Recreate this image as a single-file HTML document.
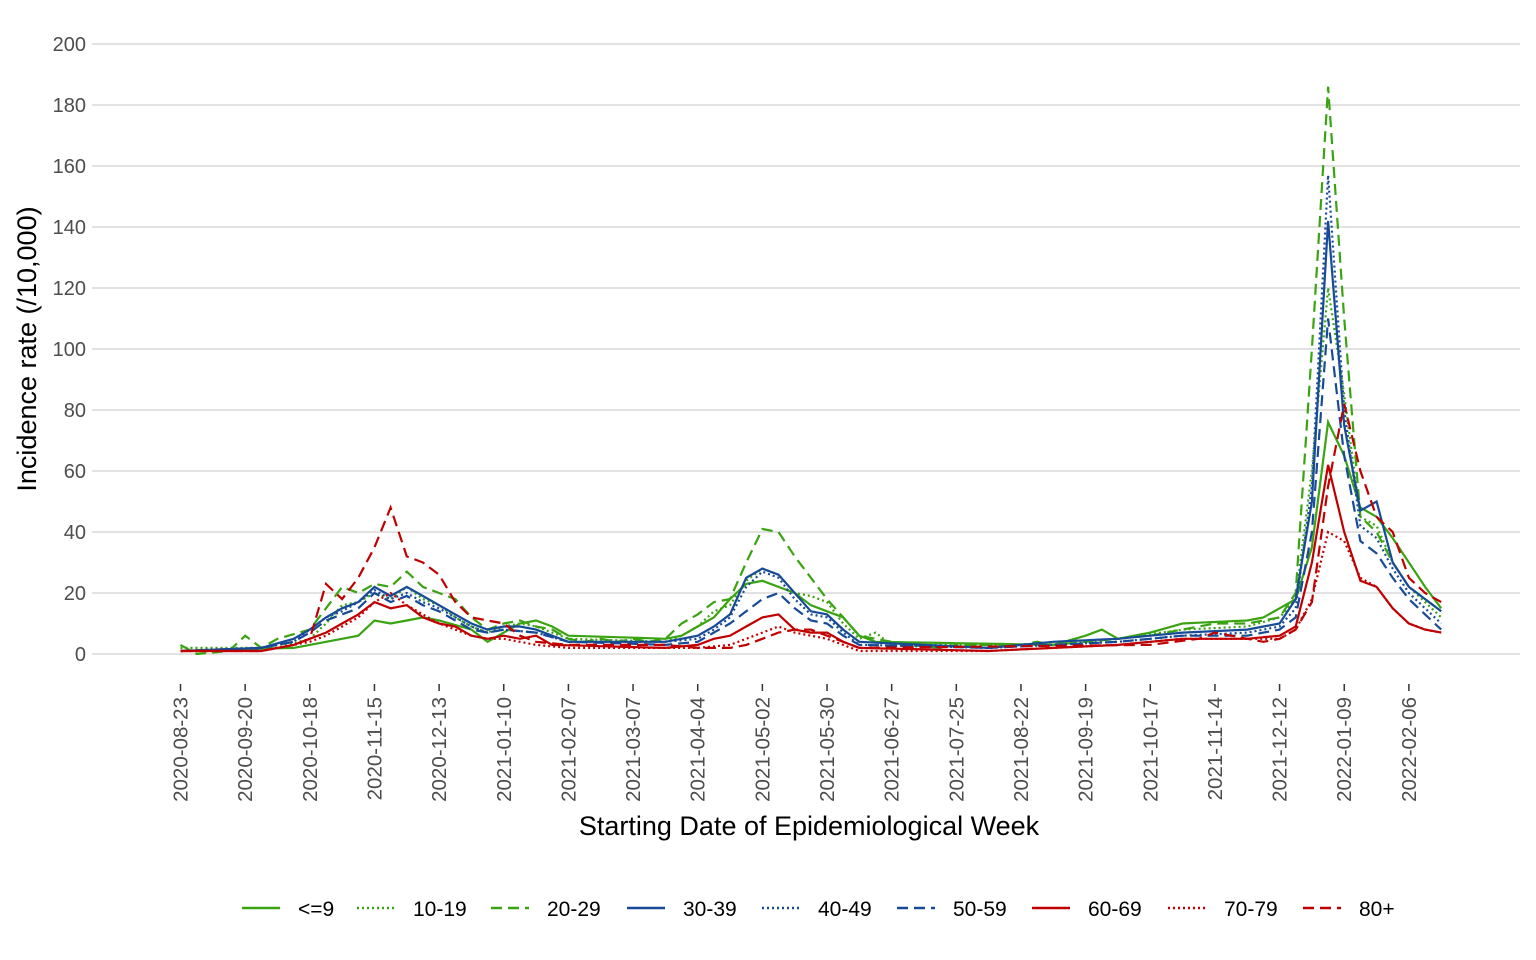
<!DOCTYPE html>
<html><head><meta charset="utf-8"><style>
body{margin:0;background:#fff;}
svg{display:block;font-family:"Liberation Sans",Arial,sans-serif;}
</style></head><body>
<svg id="s" width="1536" height="960" xmlns="http://www.w3.org/2000/svg">
<g id="grid" stroke="#d0d0d0" stroke-width="1.3"></g>
<g id="ylab" fill="#4d4d4d" font-size="20" text-anchor="end"></g>
<g id="xt"></g>
<g id="series" fill="none" stroke-width="2.2"></g>
<text x="809" y="835" font-size="27" text-anchor="middle" fill="#000">Starting Date of Epidemiological Week</text>
<text transform="translate(36,349) rotate(-90)" font-size="27" text-anchor="middle" fill="#000">Incidence rate (/10,000)</text>
<g id="leg" font-size="21" fill="#000"></g>
</svg>
<script>
var NS="http://www.w3.org/2000/svg";
function el(p,t,a,txt){var e=document.createElementNS(NS,t);for(var k in a)e.setAttribute(k,a[k]);if(txt!=null)e.textContent=txt;document.getElementById(p).appendChild(e);return e;}
function Y(v){return 654-v*3.05;}
function X(w){return 180.5+w*16.163;}
for(var v=0;v<=200;v+=20){el("grid","line",{x1:92,x2:1520,y1:Y(v),y2:Y(v)});el("ylab","text",{x:86,y:Y(v)+7},v);}
var labs=["2020-08-23","2020-09-20","2020-10-18","2020-11-15","2020-12-13","2021-01-10","2021-02-07","2021-03-07","2021-04-04","2021-05-02","2021-05-30","2021-06-27","2021-07-25","2021-08-22","2021-09-19","2021-10-17","2021-11-14","2021-12-12","2022-01-09","2022-02-06"];
labs.forEach(function(l,i){var x=X(i*4);el("xt","line",{x1:x,x2:x,y1:684,y2:691,stroke:"#333","stroke-width":1.5});el("xt","text",{transform:"translate("+(x+7)+",697) rotate(-90)","font-size":"20.5",fill:"#4d4d4d","text-anchor":"end"},l);});
function interp(k){var out=[];for(var w=0;w<=78;w++){var i=0;while(i<k.length-2&&k[i+1][0]<w)i++;var a=k[i],b=k[i+1];var t=(w-a[0])/(b[0]-a[0]);t=Math.max(0,Math.min(1,t));out.push(a[1]+(b[1]-a[1])*t);}return out;}
var G="#3aa312",B="#174a97",R="#c00000";
var S=[
{n:"<=9",c:G,d:"",k:[[0,1],[7,2],[8,3],[10,5],[11,6],[12,11],[13,10],[15,12],[16,11],[18,8],[19,4],[20,7],[21,10],[22,11],[23,9],[24,6],[30,5],[31,6],[32,9],[33,12],[34,18],[35,23],[36,24],[37,22],[38,20],[39,16],[40,14],[41,12],[42,6],[43,4],[54,3],[56,6],[57,8],[58,5],[60,7],[62,10],[66,11],[67,12],[68,15],[69,18],[70,35],[71,76],[72,65],[73,48],[74,45],[75,38],[76,30],[77,22],[78,15]]},
{n:"10-19",c:G,d:"2,3",k:[[0,2],[6,2],[8,5],[9,10],[10,16],[11,17],[12,20],[13,18],[14,22],[15,18],[16,16],[17,12],[18,9],[19,7],[20,9],[21,10],[22,9],[23,7],[24,5],[30,4],[31,6],[32,9],[33,14],[34,16],[35,24],[36,28],[37,26],[38,20],[39,19],[40,17],[41,10],[42,5],[43,7],[44,3],[54,3],[58,5],[62,8],[66,9],[68,12],[69,18],[70,60],[71,120],[72,85],[73,45],[74,42],[75,30],[76,22],[77,17],[78,12]]},
{n:"20-29",c:G,d:"11,6",k:[[0,3],[1,0],[3,1],[4,6],[5,2],[6,5],[8,8],[9,15],[10,22],[11,20],[12,23],[13,22],[14,27],[15,22],[16,20],[17,18],[18,12],[19,8],[20,10],[21,11],[22,9],[23,8],[24,5],[25,4],[26,5],[27,4],[28,5],[29,4],[30,5],[31,10],[32,13],[33,17],[34,18],[35,30],[36,41],[37,40],[38,32],[39,25],[40,18],[41,12],[42,6],[43,5],[44,4],[45,3],[47,2],[48,3],[52,3],[53,4],[54,3],[56,4],[58,5],[60,6],[62,8],[64,10],[66,10],[68,12],[69,20],[70,100],[71,186],[72,110],[73,45],[74,40],[75,30],[76,22],[77,18],[78,14]]},
{n:"30-39",c:B,d:"",k:[[0,1],[5,2],[7,5],[8,8],[9,12],[10,15],[11,17],[12,22],[13,19],[14,22],[15,19],[16,16],[17,13],[18,10],[19,8],[20,9],[21,9],[22,8],[23,6],[24,4],[30,4],[31,5],[32,6],[33,9],[34,13],[35,25],[36,28],[37,26],[38,20],[39,14],[40,13],[41,8],[42,4],[50,2],[54,4],[58,5],[62,7],[66,8],[68,10],[69,18],[70,50],[71,142],[72,75],[73,47],[74,50],[75,30],[76,22],[77,18],[78,14]]},
{n:"40-49",c:B,d:"2,3",k:[[0,1],[5,2],[7,4],[8,8],[9,12],[10,14],[11,17],[12,21],[13,18],[14,20],[15,17],[16,15],[17,12],[18,9],[19,7],[20,8],[22,7],[24,4],[30,4],[32,5],[33,8],[34,12],[35,22],[36,27],[37,25],[38,18],[39,13],[40,12],[41,7],[42,3],[50,2],[54,3],[58,4],[62,6],[66,7],[68,9],[69,15],[70,55],[71,157],[72,80],[73,42],[74,38],[75,28],[76,20],[77,15],[78,10]]},
{n:"50-59",c:B,d:"11,6",k:[[0,1],[5,2],[7,4],[8,7],[9,11],[10,13],[11,15],[12,20],[13,17],[14,19],[15,16],[16,14],[17,11],[18,8],[19,7],[20,8],[22,7],[24,4],[30,3],[32,4],[33,7],[34,10],[35,14],[36,18],[37,20],[38,15],[39,11],[40,10],[41,6],[42,3],[50,2],[54,3],[58,4],[62,6],[66,6],[68,8],[69,12],[70,40],[71,110],[72,65],[73,37],[74,33],[75,25],[76,18],[77,13],[78,8]]},
{n:"60-69",c:R,d:"",k:[[0,1],[5,1],[7,3],[8,5],[9,7],[10,10],[11,13],[12,17],[13,15],[14,16],[15,12],[16,10],[17,9],[18,6],[19,5],[20,6],[21,5],[22,6],[23,3],[30,2],[32,3],[33,5],[34,6],[35,9],[36,12],[37,13],[38,8],[39,7],[40,7],[41,4],[42,2],[50,1],[54,2],[58,3],[62,5],[66,5],[68,6],[69,9],[70,30],[71,62],[72,40],[73,24],[74,22],[75,15],[76,10],[77,8],[78,7]]},
{n:"70-79",c:R,d:"2,3",k:[[0,1],[5,1],[7,3],[8,4],[9,6],[10,9],[11,12],[12,17],[13,20],[14,16],[15,13],[16,10],[17,8],[18,6],[19,5],[20,5],[22,3],[24,2],[30,2],[32,2],[34,3],[35,5],[36,7],[37,9],[38,7],[39,6],[40,5],[41,3],[42,1],[50,1],[54,2],[58,3],[62,5],[66,5],[68,5],[69,8],[70,18],[71,40],[72,37],[73,25],[74,22],[75,15],[76,10],[77,8],[78,7]]},
{n:"80+",c:R,d:"11,6",k:[[0,1],[5,1],[7,3],[8,5],[9,23],[10,18],[11,25],[12,35],[13,48],[14,32],[15,30],[16,26],[17,17],[18,12],[19,11],[20,10],[21,6],[22,4],[24,3],[30,3],[32,2],[34,2],[35,3],[36,5],[37,7],[38,8],[39,8],[40,6],[41,4],[42,2],[60,3],[63,5],[64,7],[65,6],[66,5],[67,4],[68,5],[69,8],[70,17],[71,55],[72,82],[73,60],[74,45],[75,40],[76,25],[77,20],[78,17]]}
];
var LX=[242,357,491,627,762,897,1032,1168,1303];
S.forEach(function(s,i){var d=interp(s.k);var p="";d.forEach(function(v,w){p+=(w?"L":"M")+X(w).toFixed(1)+","+Y(v).toFixed(1);});
var a={d:p,stroke:s.c};if(s.d)a["stroke-dasharray"]=s.d;el("series","path",a);
var lx=LX[i];var la={x1:lx,x2:lx+38,y1:908,y2:908,stroke:s.c,"stroke-width":2.5};if(s.d)la["stroke-dasharray"]=s.d;el("leg","line",la);
el("leg","text",{x:lx+56,y:916},s.n);});
</script>
</body></html>
